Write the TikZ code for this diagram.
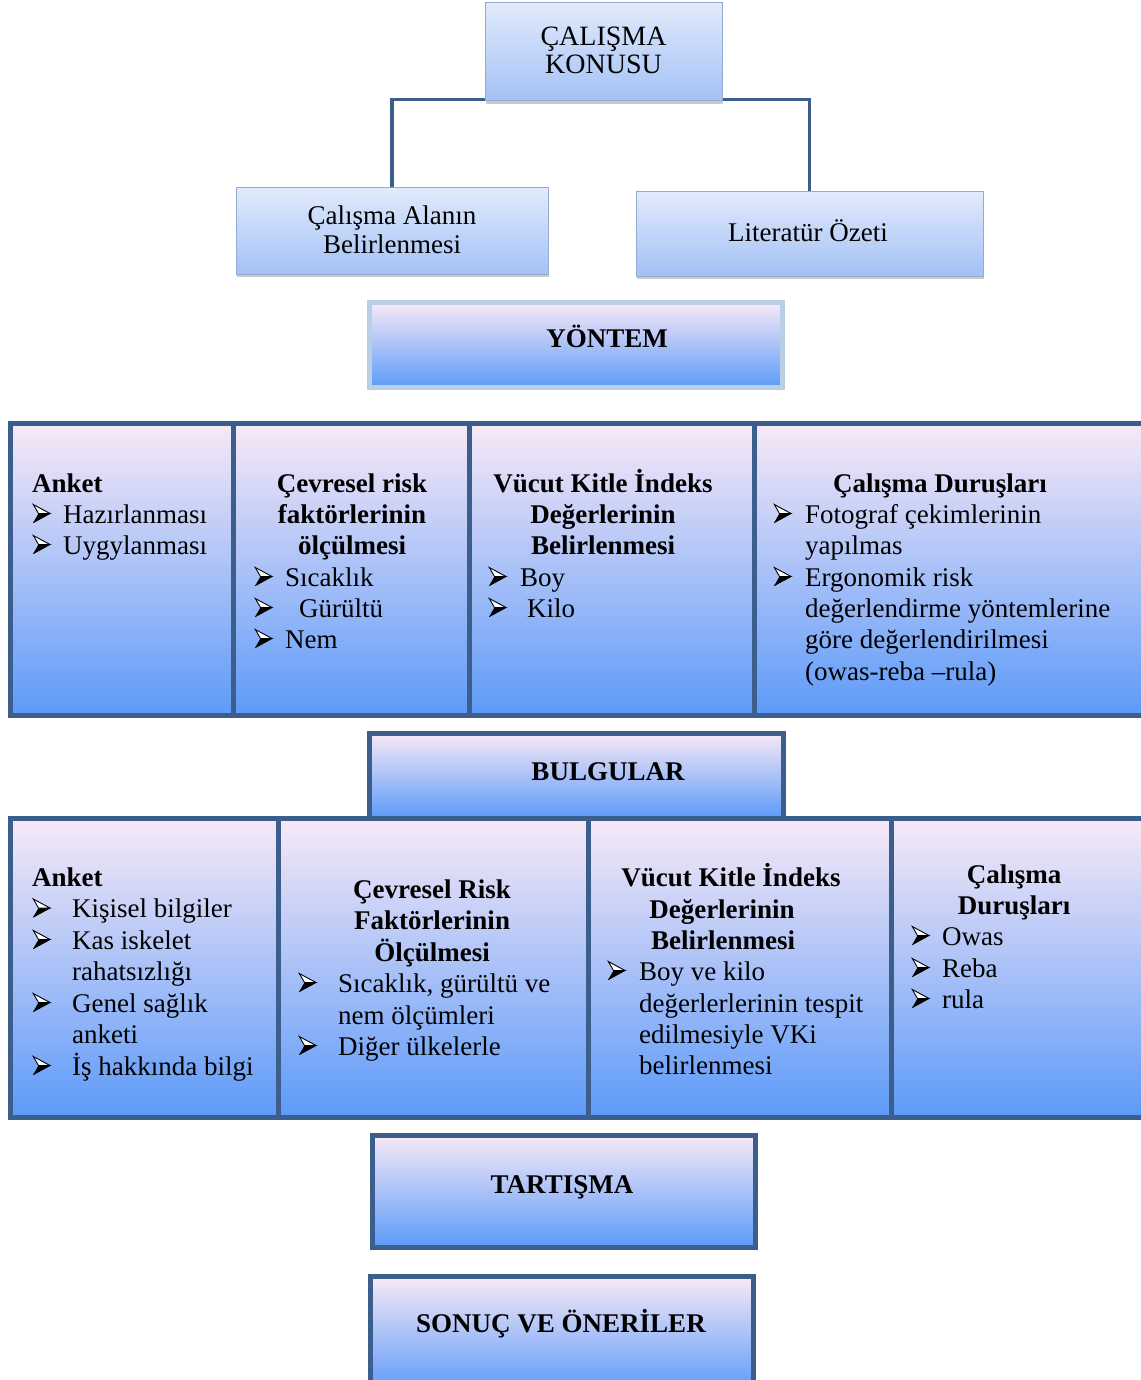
\documentclass[tikz,border=0pt]{standalone}
\usepackage{fontspec}
\setmainfont{Liberation Serif}
\usetikzlibrary{shadows}
\definecolor{dk}{HTML}{3B5E8C}
\definecolor{pk}{HTML}{F8E9F7}
\definecolor{mb}{HTML}{83BEFB}
\definecolor{bb}{HTML}{5C9AF8}
\definecolor{t1}{HTML}{E1EAFB}
\definecolor{t2}{HTML}{A3C1F6}
\definecolor{tb}{HTML}{93ABCF}
\definecolor{lb}{HTML}{BACFE5}
\tikzset{
  cell/.style={rectangle, inner sep=0, draw=dk, line width=5pt, top color=pk, middle color=mb, bottom color=bb},
  topbox/.style={rectangle, inner sep=0, draw=tb, line width=1pt, top color=t1, bottom color=t2,
     drop shadow={shadow xshift=1pt, shadow yshift=-3pt, opacity=0.35, fill=black!60}},
  conn/.style={draw=dk, line width=3.5pt},
  txt/.style={inner sep=0, anchor=base west, font=\fontsize{27}{31.5}\selectfont},
  ctxt/.style={inner sep=0, anchor=base, font=\fontsize{27}{31.5}\selectfont},
  hd/.style={inner sep=0, anchor=base, font=\fontsize{27}{31.5}\selectfont\bfseries},
  hdl/.style={inner sep=0, anchor=base west, font=\fontsize{27}{31.5}\selectfont\bfseries},
  arrowbul/.pic={
    \fill[black, line join=round] (0,0) -- (17,-9.5) -- (5.5,-9.5) -- cycle;
    \draw[fill=white, line width=0.9pt, line join=miter] (0.3,-18.5) -- (17,-9.5) -- (5.5,-9.5) -- cycle;
    \draw[black, line width=0.9pt, line join=miter] (0.3,-0.5) -- (17,-9.5);
  },
}
\begin{document}
\begin{tikzpicture}[x=1pt,y=-1pt]
\useasboundingbox (0,0) rectangle (1140,1380);

% ---------- top part ----------
\node[topbox, minimum width=237pt, minimum height=98pt] (konu) at (603.5,52) {};
\node[topbox, minimum width=312pt, minimum height=86pt] (alan) at (392,231) {};
\node[topbox, minimum width=347pt, minimum height=84pt] (lit) at (809.5,234) {};
\draw[conn] ([yshift=2pt]konu.south west) -| (alan.north);
\draw[conn] ([yshift=2pt]konu.south east) -| (lit.north);
\node[ctxt, font=\fontsize{28}{28}\selectfont] (konu1) at (603.5,46) {ÇALIŞMA};
\node[ctxt, font=\fontsize{28}{28}\selectfont] (konu2) at (603.5,74) {KONUSU};
\node[ctxt] (alan1) at (392,225) {Çalışma Alanın};
\node[ctxt] (alan2) at (392,253) {Belirlenmesi};
\node[ctxt] (lit1) at (808,242) {Literatür Özeti};

% ---------- YÖNTEM ----------
\node[rectangle, inner sep=0, draw=lb, line width=5pt, top color=pk, middle color=mb, bottom color=bb,
      minimum width=413pt, minimum height=85pt] (yontem) at (576,345) {};
\node[hd] (yontemt) at (607,347) {YÖNTEM};

% ---------- row 1 ----------
\node[cell, minimum width=223pt, minimum height=292pt] (r1a) at (121.5,569) {};
\node[cell, minimum width=236pt, minimum height=292pt] (r1b) at (351,569) {};
\node[cell, minimum width=285pt, minimum height=292pt] (r1c) at (611.5,569) {};
\node[cell, minimum width=396pt, minimum height=292pt] (r1d) at (952,569) {};

\node[hdl] (a1h) at (32,492) {Anket};
\pic at (33,523) {arrowbul};
\node[txt] (a1t1) at (63,523) {Hazırlanması};
\pic at (33,554) {arrowbul};
\node[txt] (a1t2) at (63,554) {Uygylanması};

\node[hd] (b1h1) at (352,492) {Çevresel risk};
\node[hd] (b1h2) at (352,523) {faktörlerinin};
\node[hd] (b1h3) at (352,554) {ölçülmesi};
\pic at (255,586) {arrowbul};
\node[txt] (b1t1) at (285,586) {Sıcaklık};
\pic at (255,617) {arrowbul};
\node[txt] (b1t2) at (299,617) {Gürültü};
\pic at (255,648) {arrowbul};
\node[txt] (b1t3) at (285,648) {Nem};

\node[hd] (c1h1) at (603,492) {Vücut Kitle İndeks};
\node[hd] (c1h2) at (603,523) {Değerlerinin};
\node[hd] (c1h3) at (603,554) {Belirlenmesi};
\pic at (489,586) {arrowbul};
\node[txt] (c1t1) at (520,586) {Boy};
\pic at (489,617) {arrowbul};
\node[txt] (c1t2) at (527,617) {Kilo};

\node[hd] (d1h) at (940,492) {Çalışma Duruşları};
\pic at (774,523) {arrowbul};
\node[txt] (d1t1) at (805,523) {Fotograf çekimlerinin};
\node[txt] (d1t2) at (805,554) {yapılmas};
\pic at (774,586) {arrowbul};
\node[txt] (d1t3) at (805,586) {Ergonomik risk};
\node[txt] (d1t4) at (805,617) {değerlendirme yöntemlerine};
\node[txt] (d1t5) at (805,648) {göre değerlendirilmesi};
\node[txt] (d1t6) at (805,680) {(owas-reba –rula)};

% ---------- BULGULAR ----------
\node[cell, minimum width=414pt, minimum height=85pt] (bulgu) at (576,775.5) {};
\node[hd] (bulgut) at (608,780) {BULGULAR};

% ---------- row 2 ----------
\node[cell, minimum width=268pt, minimum height=299pt] (r2a) at (144,967.5) {};
\node[cell, minimum width=310pt, minimum height=299pt] (r2b) at (433,967.5) {};
\node[cell, minimum width=303pt, minimum height=299pt] (r2c) at (739.5,967.5) {};
\node[cell, minimum width=259pt, minimum height=299pt] (r2d) at (1020.5,967.5) {};

\node[hdl] (a2h) at (32,886) {Anket};
\pic at (33,917.5) {arrowbul};
\node[txt] (a2t1) at (72,917.5) {Kişisel bilgiler};
\pic at (33,949) {arrowbul};
\node[txt] (a2t2) at (72,949) {Kas iskelet};
\node[txt] (a2t3) at (72,980.5) {rahatsızlığı};
\pic at (33,1012) {arrowbul};
\node[txt] (a2t4) at (72,1012) {Genel sağlık};
\node[txt] (a2t5) at (72,1043.5) {anketi};
\pic at (33,1075) {arrowbul};
\node[txt] (a2t6) at (72,1075) {İş hakkında bilgi};

\node[hd] (b2h1) at (432,898) {Çevresel Risk};
\node[hd] (b2h2) at (432,929) {Faktörlerinin};
\node[hd] (b2h3) at (432,961) {Ölçülmesi};
\pic at (299,992) {arrowbul};
\node[txt] (b2t1) at (338,992) {Sıcaklık, gürültü ve};
\node[txt] (b2t2) at (338,1024) {nem ölçümleri};
\pic at (299,1055) {arrowbul};
\node[txt] (b2t3) at (338,1055) {Diğer ülkelerle};

\node[hd] (c2h1) at (731,886) {Vücut Kitle İndeks};
\node[hd] (c2h2) at (722,918) {Değerlerinin};
\node[hd] (c2h3) at (723,949) {Belirlenmesi};
\pic at (608,980) {arrowbul};
\node[txt] (c2t1) at (639,980) {Boy ve kilo};
\node[txt] (c2t2) at (639,1012) {değerlerlerinin tespit};
\node[txt] (c2t3) at (639,1043) {edilmesiyle VKi};
\node[txt] (c2t4) at (639,1074) {belirlenmesi};

\node[hd] (d2h1) at (1014,883) {Çalışma};
\node[hd] (d2h2) at (1014,914) {Duruşları};
\pic at (912,945) {arrowbul};
\node[txt] (d2t1) at (942,945) {Owas};
\pic at (912,977) {arrowbul};
\node[txt] (d2t2) at (942,977) {Reba};
\pic at (912,1008) {arrowbul};
\node[txt] (d2t3) at (942,1008) {rula};

% ---------- bottom ----------
\node[cell, minimum width=383pt, minimum height=112pt] (tart) at (563.5,1191) {};
\node[hd] (tartt) at (562,1193) {TARTIŞMA};
\node[cell, minimum width=383pt, minimum height=116pt] (sonuc) at (561.5,1334) {};
\node[hd] (sonuct) at (561,1332) {SONUÇ VE ÖNERİLER};
\end{tikzpicture}
\end{document}
